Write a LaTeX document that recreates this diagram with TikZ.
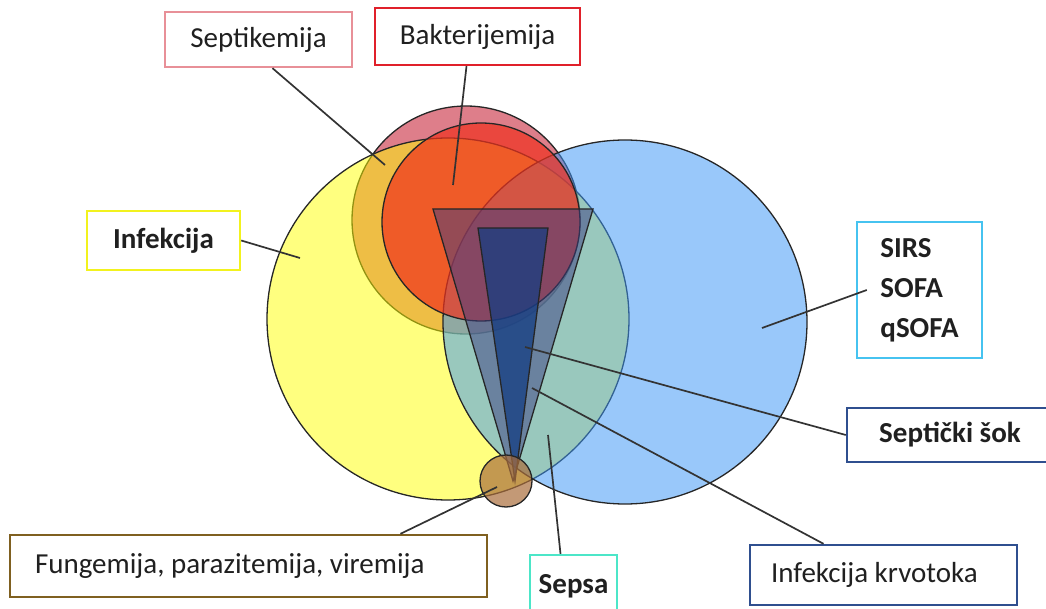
\documentclass[tikz,border=0pt]{standalone}
\usepackage{fontspec}
\setmainfont{Carlito}
\usepackage{xcolor}
\definecolor{septPink}{HTML}{C8283C}
\definecolor{baktRed}{HTML}{F0321E}
\definecolor{infYellow}{HTML}{FFFF00}
\definecolor{sirsBlue}{HTML}{3E97F5}
\definecolor{krvNavy}{HTML}{3C3C82}
\definecolor{sokNavy}{HTML}{143C82}
\definecolor{fungBrown}{HTML}{AA6E3C}
\definecolor{edgeSept}{HTML}{E89098}
\definecolor{edgeBakt}{HTML}{E0202A}
\definecolor{edgeInf}{HTML}{F2F21E}
\definecolor{edgeSirs}{HTML}{46C3F0}
\definecolor{edgeNavy}{HTML}{2F4F8F}
\definecolor{edgeSepsa}{HTML}{4CE6C8}
\definecolor{edgeFung}{HTML}{7F6020}
\definecolor{textGray}{HTML}{202020}
\usetikzlibrary{calc}

\begin{document}
\begin{tikzpicture}[
    x=1pt, y=-1pt,
    callbox/.style={rectangle, draw, line width=2.4pt, fill=white,
                    inner sep=0pt, align=center, text=textGray,
                    font=\fontsize{29}{40}\selectfont},
    boldbox/.style={callbox, font=\fontsize{29}{40}\selectfont\bfseries},
    zone/.style   ={draw=black!85, line width=1.3pt},
    lead/.style   ={draw=black!80, line width=1.7pt}
]
\useasboundingbox (0,0) rectangle (1046,609);

% sets (sepsa = overlap of infekcija and SIRS)
\draw[zone, fill=septPink, fill opacity=0.6] (466,220) circle (114);
\draw[zone, fill=infYellow, fill opacity=0.5] (448,319) circle (181);
\draw[zone, fill=sirsBlue, fill opacity=0.53] (625,322) circle (182);
\draw[zone, fill=baktRed, fill opacity=0.7] (481,222) circle (99);
\draw[zone, fill=krvNavy, fill opacity=0.5] (433,209) -- (593,209) -- (513,481) -- cycle;
\draw[zone, fill=sokNavy, fill opacity=0.75] (478,228) -- (548,228) -- (515,481) -- cycle;
\draw[zone, fill=fungBrown, fill opacity=0.7] (506,481) circle (26);

% pointer tips
\coordinate (septTip)  at (385,165);
\coordinate (baktTip)  at (453,185);
\coordinate (infTip)   at (300,258);
\coordinate (sirsTip)  at (762,328);
\coordinate (sokTip)   at (525,347);
\coordinate (krvTip)   at (532,388);
\coordinate (sepsaTip) at (548,435);
\coordinate (fungTip)  at (497,487);

% labels
\node[callbox, draw=edgeSept, minimum width=187, minimum height=55] (sept)  at (258.5,39.5) {Septikemija};
\node[callbox, draw=edgeBakt, minimum width=205, minimum height=57] (bakt)  at (477.5,36.5) {Bakterijemija};
\node[boldbox, draw=edgeInf,  minimum width=153, minimum height=59] (inf)   at (163.5,240.5) {Infekcija};
\node[boldbox, draw=edgeSirs, minimum width=125, minimum height=136, align=left]
                                                                     (sirs)  at (919.5,290) {SIRS\\SOFA\\qSOFA};
\node[boldbox, draw=edgeNavy, minimum width=206, minimum height=54] (sok)   at (950,435) {Septički šok};
\node[callbox, draw=edgeNavy, minimum width=267, minimum height=60, text width=225, align=flush left]
                                                                     (krv)   at (883.5,575) {Infekcija krvotoka};
\node[boldbox, draw=edgeSepsa, minimum width=87, minimum height=62] (sepsa) at (573.5,586) {Sepsa};
\node[callbox, draw=edgeFung, minimum width=477, minimum height=62, text width=427, align=flush left]
                                                                     (fung)  at (248.5,566) {Fungemija, parazitemija, viremija};

% leaders
\draw[lead] ([xshift=14pt]sept.south)   -- (septTip);
\draw[lead] ([xshift=-11pt]bakt.south)  -- (baktTip);
\draw[lead] (inf.east)                  -- (infTip);
\draw[lead] ([xshift=11pt]sirs.west)    -- (sirsTip);
\draw[lead] (sok.west)                  -- (sokTip);
\draw[lead] ([xshift=-60pt]krv.north)   -- (krvTip);
\draw[lead] ([xshift=-13pt]sepsa.north) -- (sepsaTip);
\draw[lead] ([xshift=152pt]fung.north)  -- (fungTip);
\end{tikzpicture}
\end{document}
